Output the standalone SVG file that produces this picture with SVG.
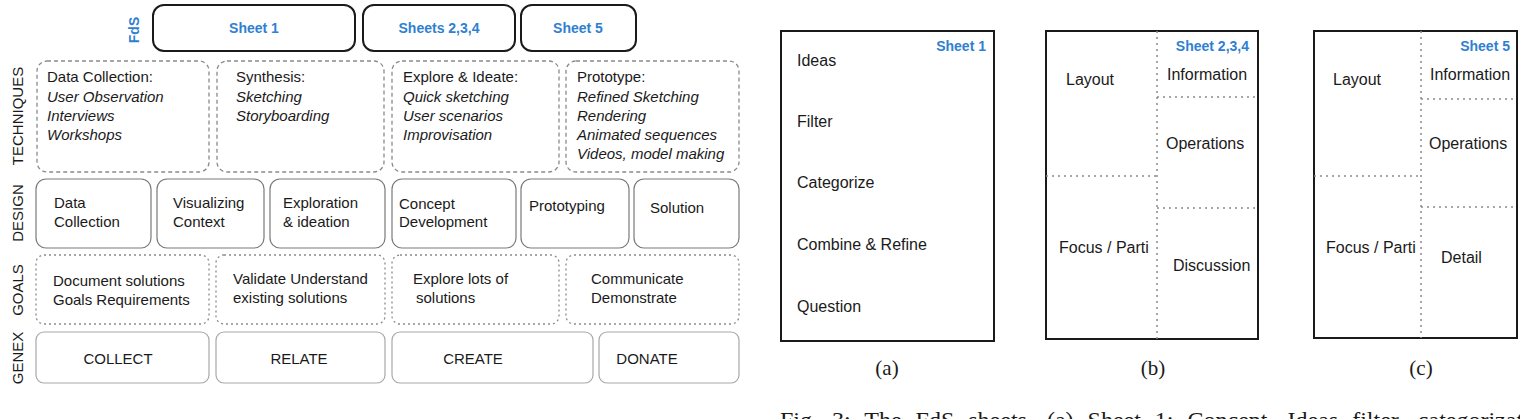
<svg xmlns="http://www.w3.org/2000/svg" width="1520" height="419" viewBox="0 0 1520 419">
<style>
text{font-family:"Liberation Sans",Arial,sans-serif;fill:#1a1a1a}
.t{font-size:15px}
.r{font-size:16px}
.it{font-style:italic}
.blue{fill:#2f80d2;font-weight:bold;font-size:14px}
.lab{font-size:15px;text-anchor:middle}
.mid{text-anchor:middle}
.end{text-anchor:end}
.sheet{fill:#fff;stroke:#1a1a1a;stroke-width:2}
.tech{fill:#fff;stroke:#8a8a8a;stroke-width:1.3;stroke-dasharray:4 3}
.design{fill:#fff;stroke:#7a7a7a;stroke-width:1.2}
.goal{fill:#fff;stroke:#8a8a8a;stroke-width:1.3;stroke-dasharray:2 3}
.genex{fill:#fff;stroke:#a8a8a8;stroke-width:1.2}
.page{fill:#fff;stroke:#1a1a1a;stroke-width:2}
.div{stroke:#8a8a8a;stroke-width:1.5;stroke-dasharray:2 4;fill:none}
.cap{font-family:"Liberation Serif","Times New Roman",serif;font-size:21px}
.caption{font-family:"Liberation Serif","Times New Roman",serif;font-size:24px;word-spacing:8px}
</style>
<rect width="1520" height="419" fill="#fff"/>

<!-- Row labels -->
<g id="row-labels">
<text class="blue" transform="translate(139,30) rotate(-90)" text-anchor="middle">FdS</text>
<text class="lab" transform="translate(23,116) rotate(-90)">TECHNIQUES</text>
<text class="lab" transform="translate(23,213) rotate(-90)">DESIGN</text>
<text class="lab" transform="translate(23,290) rotate(-90)">GOALS</text>
<text class="lab" transform="translate(23,358) rotate(-90)">GENEX</text>
</g>

<!-- FdS sheets -->
<g id="fds-sheet1"><rect class="sheet" x="153" y="5" width="202" height="46" rx="11"/><text class="blue mid" x="254" y="33">Sheet 1</text></g>
<g id="fds-sheets234"><rect class="sheet" x="363" y="5" width="152" height="46" rx="11"/><text class="blue mid" x="439" y="33">Sheets 2,3,4</text></g>
<g id="fds-sheet5"><rect class="sheet" x="521" y="5" width="115" height="46" rx="11"/><text class="blue mid" x="578" y="33">Sheet 5</text></g>

<!-- Techniques -->
<g id="tech-data-collection"><rect class="tech" x="37" y="61" width="172" height="111" rx="10"/>
<text class="t" x="47" y="82">Data Collection:</text>
<text class="t it" x="47" y="102">User Observation</text>
<text class="t it" x="47" y="121">Interviews</text>
<text class="t it" x="47" y="140">Workshops</text></g>
<g id="tech-synthesis"><rect class="tech" x="217" y="61" width="167" height="111" rx="10"/>
<text class="t" x="236" y="82">Synthesis:</text>
<text class="t it" x="236" y="102">Sketching</text>
<text class="t it" x="236" y="121">Storyboarding</text></g>
<g id="tech-explore"><rect class="tech" x="392" y="61" width="167" height="111" rx="10"/>
<text class="t" x="403" y="82">Explore &amp; Ideate:</text>
<text class="t it" x="403" y="102">Quick sketching</text>
<text class="t it" x="403" y="121">User scenarios</text>
<text class="t it" x="403" y="140">Improvisation</text></g>
<g id="tech-prototype"><rect class="tech" x="566" y="61" width="173" height="111" rx="10"/>
<text class="t" x="577" y="82">Prototype:</text>
<text class="t it" x="577" y="102">Refined Sketching</text>
<text class="t it" x="577" y="121">Rendering</text>
<text class="t it" x="577" y="140">Animated sequences</text>
<text class="t it" x="577" y="159">Videos, model making</text></g>

<!-- Design -->
<g id="design-data"><rect class="design" x="36" y="179" width="115" height="69" rx="10"/>
<text class="t" x="54" y="208">Data</text><text class="t" x="54" y="227">Collection</text></g>
<g id="design-visualizing"><rect class="design" x="157" y="179" width="107" height="69" rx="10"/>
<text class="t" x="173" y="208">Visualizing</text><text class="t" x="173" y="227">Context</text></g>
<g id="design-exploration"><rect class="design" x="270" y="179" width="115" height="69" rx="10"/>
<text class="t" x="283" y="208">Exploration</text><text class="t" x="283" y="227">&amp; ideation</text></g>
<g id="design-concept"><rect class="design" x="392" y="179" width="124" height="69" rx="10"/>
<text class="t" x="399" y="209">Concept</text><text class="t" x="399" y="227">Development</text></g>
<g id="design-prototyping"><rect class="design" x="521" y="179" width="108" height="69" rx="10"/>
<text class="t" x="529" y="211">Prototyping</text></g>
<g id="design-solution"><rect class="design" x="634" y="179" width="105" height="69" rx="10"/>
<text class="t" x="650" y="213">Solution</text></g>

<!-- Goals -->
<g id="goal-document"><rect class="goal" x="36" y="255" width="173" height="69" rx="8"/>
<text class="t" x="53" y="286">Document solutions</text><text class="t" x="53" y="305">Goals Requirements</text></g>
<g id="goal-validate"><rect class="goal" x="216" y="255" width="169" height="69" rx="8"/>
<text class="t" x="233" y="284">Validate Understand</text><text class="t" x="233" y="303">existing solutions</text></g>
<g id="goal-explore"><rect class="goal" x="392" y="255" width="167" height="69" rx="8"/>
<text class="t" x="413" y="284">Explore lots of</text><text class="t" x="416" y="303">solutions</text></g>
<g id="goal-communicate"><rect class="goal" x="566" y="255" width="173" height="69" rx="8"/>
<text class="t" x="591" y="284">Communicate</text><text class="t" x="591" y="303">Demonstrate</text></g>

<!-- Genex -->
<g id="genex-collect"><rect class="genex" x="36" y="332" width="173" height="51" rx="8"/><text class="t mid" x="118" y="364">COLLECT</text></g>
<g id="genex-relate"><rect class="genex" x="216" y="332" width="169" height="51" rx="8"/><text class="t mid" x="299" y="364">RELATE</text></g>
<g id="genex-create"><rect class="genex" x="392" y="332" width="201" height="51" rx="8"/><text class="t mid" x="473" y="364">CREATE</text></g>
<g id="genex-donate"><rect class="genex" x="599" y="332" width="140" height="51" rx="8"/><text class="t mid" x="647" y="364">DONATE</text></g>

<g id="connectors"></g>

<!-- Sheet (a) -->
<g id="sheet-a">
<rect class="page" x="781" y="31" width="213" height="310"/>
<text class="blue end" x="986" y="51">Sheet 1</text>
<text class="r" x="797" y="66">Ideas</text>
<text class="r" x="797" y="127">Filter</text>
<text class="r" x="797" y="188">Categorize</text>
<text class="r" x="797" y="250">Combine &amp; Refine</text>
<text class="r" x="797" y="312">Question</text>
<text class="cap mid" x="887" y="375">(a)</text>
</g>

<!-- Sheet (b) -->
<g id="sheet-b">
<rect class="page" x="1046" y="31" width="212" height="308"/>
<path class="div" d="M1157 31V339M1046 176H1157M1157 97H1258M1157 208H1258"/>
<text class="blue end" x="1249" y="51">Sheet 2,3,4</text>
<text class="r" x="1066" y="85">Layout</text>
<text class="r" x="1167" y="80">Information</text>
<text class="r" x="1166" y="149">Operations</text>
<text class="r" x="1059" y="253">Focus / Parti</text>
<text class="r" x="1173" y="271">Discussion</text>
<text class="cap mid" x="1153" y="375">(b)</text>
</g>

<!-- Sheet (c) -->
<g id="sheet-c">
<rect class="page" x="1314" y="31" width="203" height="307"/>
<path class="div" d="M1421 31V338M1314 176H1421M1421 99H1517M1421 207H1517"/>
<text class="blue end" x="1510" y="51">Sheet 5</text>
<text class="r" x="1333" y="85">Layout</text>
<text class="r" x="1430" y="80">Information</text>
<text class="r" x="1429" y="149">Operations</text>
<text class="r" x="1326" y="253">Focus / Parti</text>
<text class="r" x="1441" y="263">Detail</text>
<text class="cap mid" x="1421" y="375">(c)</text>
</g>

<text class="caption" x="780" y="428">Fig. 3: The FdS sheets. (a) Sheet 1: Concept, Ideas filter, categorization</text>
</svg>
